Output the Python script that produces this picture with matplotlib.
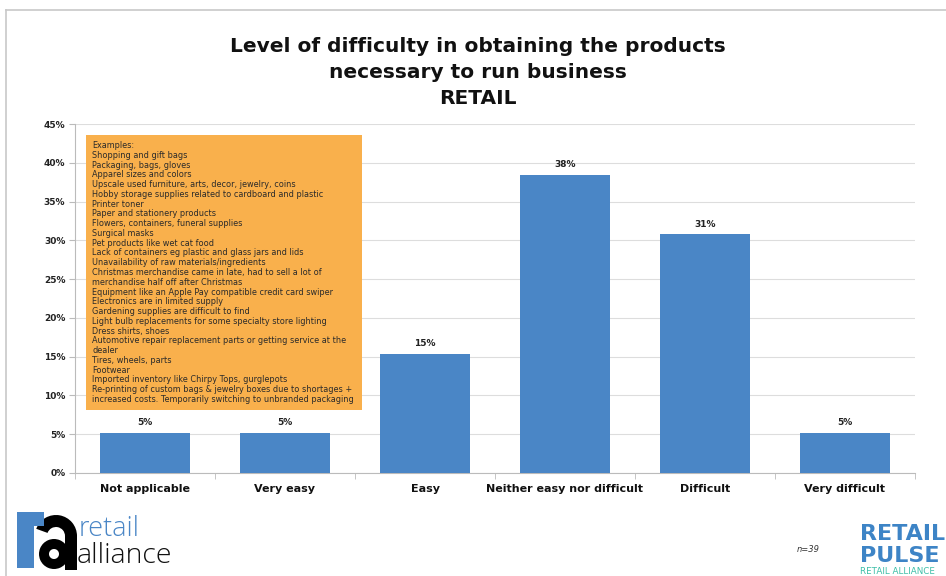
import matplotlib
matplotlib.use("Agg")
import matplotlib.pyplot as plt
from matplotlib.patches import Rectangle, Wedge
from matplotlib.lines import Line2D

categories = ["Not applicable", "Very easy", "Easy",
              "Neither easy nor difficult", "Difficult", "Very difficult"]
counts = [2, 2, 6, 15, 12, 2]
n_total = 39
shares = [100.0 * c / n_total for c in counts]
y_ticks = [0, 5, 10, 15, 20, 25, 30, 35, 40, 45]

examples = [
    "Examples:",
    "Shopping and gift bags",
    "Packaging, bags, gloves",
    "Apparel sizes and colors",
    "Upscale used furniture, arts, decor, jewelry, coins",
    "Hobby storage supplies related to cardboard and plastic",
    "Printer toner",
    "Paper and stationery products",
    "Flowers, containers, funeral supplies",
    "Surgical masks",
    "Pet products like wet cat food",
    "Lack of containers eg plastic and glass jars and lids",
    "Unavailability of raw materials/ingredients",
    "Christmas merchandise came in late, had to sell a lot of",
    "merchandise half off after Christmas",
    "Equipment like an Apple Pay compatible credit card swiper",
    "Electronics are in limited supply",
    "Gardening supplies are difficult to find",
    "Light bulb replacements for some specialty store lighting",
    "Dress shirts, shoes",
    "Automotive repair replacement parts or getting service at the",
    "dealer",
    "Tires, wheels, parts",
    "Footwear",
    "Imported inventory like Chirpy Tops, gurglepots",
    "Re-printing of custom bags & jewelry boxes due to shortages +",
    "increased costs. Temporarily switching to unbranded packaging",
]

W, H = 946, 576
BAR = "#4A86C6"
ORANGE = "#F9B04C"
FONT = "DejaVu Sans"


def fx(px):
    return px / W


def fy(py):
    return 1 - py / H


fig = plt.figure(figsize=(W / 100, H / 100), dpi=100)
fig.patch.set_facecolor("white")

# slide frame
fig.add_artist(Line2D([fx(6), fx(6)], [fy(10), fy(576)], color="#c8c8c8", lw=1.2))
fig.add_artist(Line2D([fx(6), fx(946)], [fy(10), fy(10)], color="#c8c8c8", lw=1.2))

ax = fig.add_axes([fx(75), fy(473), fx(915) - fx(75), fy(124) - fy(473)])
x = list(range(len(categories)))
bars = ax.bar(x, shares, width=0.64, color=BAR, zorder=3)
for b, v in zip(bars, shares):
    ax.text(b.get_x() + b.get_width() / 2, v + 0.75, f"{v:.0f}%",
            ha="center", va="bottom", fontsize=6.5, fontweight="bold",
            family=FONT, color="#222222")

ax.set_xlim(-0.5, len(categories) - 0.5)
ax.set_ylim(0, 45)
ax.set_yticks(y_ticks)
ax.set_yticklabels([f"{t}%" for t in y_ticks], fontsize=6.5, fontweight="bold",
                   family=FONT, color="#222222")
ax.set_xticks(x)
ax.set_xticklabels(categories, fontsize=8, fontweight="bold", family=FONT,
                   color="#111111")
ax.set_xticks([i + 0.5 for i in range(-1, len(categories))], minor=True)
ax.tick_params(axis="x", which="major", length=0, pad=8)
ax.tick_params(axis="x", which="minor", length=4, color="#bbbbbb")
ax.tick_params(axis="y", length=4, color="#bbbbbb", pad=3)
ax.grid(axis="y", color="#dddddd", lw=0.8, zorder=0)
for s in ["top", "right"]:
    ax.spines[s].set_visible(False)
ax.spines["left"].set_color("#bbbbbb")
ax.spines["bottom"].set_color("#bbbbbb")

# examples box
fig.add_artist(Rectangle((fx(86), fy(410)), fx(362) - fx(86), fy(135) - fy(410),
                         transform=fig.transFigure, facecolor=ORANGE,
                         edgecolor="none", zorder=5))
fig.text(fx(92), fy(141), "\n".join(examples), ha="left", va="top",
         fontsize=5.85, family=FONT, color="#2a2a2a", linespacing=1.11, zorder=6)

# title
title_lines = ["Level of difficulty in obtaining the products",
               "necessary to run business", "RETAIL"]
for yy, t in zip([46, 73, 99], title_lines):
    fig.text(fx(478), fy(yy), t, ha="center", va="center", fontsize=14.5,
             fontweight="bold", family=FONT, color="#111111")

fig.text(fx(797), fy(549), "n=39", ha="left", va="center", fontsize=6,
         style="italic", family=FONT, color="#333333")

# retail alliance mark
fig.add_artist(Rectangle((fx(17), fy(568)), fx(34) - fx(17), fy(512) - fy(568),
                         transform=fig.transFigure, facecolor=BAR, edgecolor="none"))
fig.add_artist(Rectangle((fx(17), fy(526)), fx(44) - fx(17), fy(512) - fy(526),
                         transform=fig.transFigure, facecolor=BAR, edgecolor="none"))
lax = fig.add_axes([fx(30), fy(570), fx(78) - fx(30), fy(510) - fy(570)])
lax.set_xlim(0, 48)
lax.set_ylim(0, 60)
lax.axis("off")
lax.add_patch(Wedge((26, 34), 21, 0, 160, width=12, facecolor="black"))
lax.add_patch(Rectangle((35, 0), 12, 35, facecolor="black"))
lax.add_patch(Wedge((24, 16), 15, 0, 360, width=10, facecolor="black"))
fig.text(fx(79), fy(529), "retail", ha="left", va="center", fontsize=19.5,
         family="Open Sans", fontweight="light", color=BAR)
fig.text(fx(77), fy(556), "alliance", ha="left", va="center", fontsize=20.5,
         family="Open Sans", fontweight="light", color="#111111")

# retail pulse mark
fig.text(fx(860), fy(534), "RETAIL", ha="left", va="center", fontsize=16,
         fontweight="bold", family=FONT, color="#3D84C6")
fig.text(fx(860), fy(556), "PULSE", ha="left", va="center", fontsize=16,
         fontweight="bold", family=FONT, color="#3D84C6")
fig.text(fx(860), fy(571), "RETAIL ALLIANCE", ha="left", va="center", fontsize=6.3,
         family=FONT, color="#3DBFA8")

fig.savefig("out.png", dpi=100, facecolor="white")
